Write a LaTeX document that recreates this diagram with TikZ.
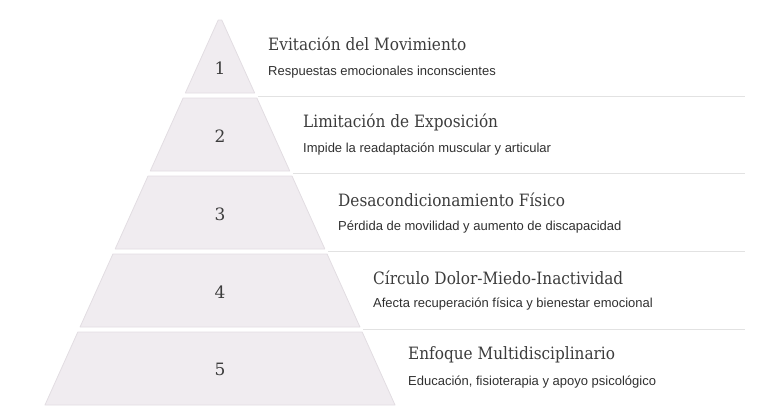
\documentclass[tikz,border=0pt]{standalone}
\usepackage{fontspec}
\setmainfont{Liberation Sans}
\newfontfamily\slabfont[FakeStretch=0.9]{DejaVu Serif}
\newfontfamily\numfont{DejaVu Serif}
\newfontfamily\subfont{Liberation Sans}
\definecolor{bandfill}{HTML}{F0ECF0}
\definecolor{bandedge}{HTML}{E2DDE2}
\definecolor{sepline}{HTML}{E2E2E2}
\definecolor{titlecol}{HTML}{3C3C3C}
\definecolor{subcol}{HTML}{303030}
\tikzset{
  band/.style={fill=bandfill, draw=bandedge, line width=0.8pt, line join=round},
  numlabel/.style={font=\numfont\fontsize{17}{20}\selectfont, text=titlecol, inner sep=0pt},
  titlelabel/.style={font=\slabfont\fontsize{17}{20}\selectfont, text=titlecol, anchor=west, inner sep=0pt},
  sublabel/.style={font=\subfont\fontsize{13}{15}\selectfont, text=subcol, anchor=west, inner sep=0pt},
  sepstyle/.style={draw=sepline, line width=1pt}
}
\begin{document}
\begin{tikzpicture}[x=1pt,y=-1pt]
\useasboundingbox (0,0) rectangle (764,416);
% bands: hw(y) = (y-16)*0.45, center x = 220
\def\cx{220}
\foreach \i/\top/\bot in {1/20/93, 2/98/171, 3/176/249, 4/254/327, 5/332/405}{
  \pgfmathsetmacro{\ht}{(\top-16)*0.45}
  \pgfmathsetmacro{\hb}{(\bot-16)*0.45}
  \path[band] (\cx-\ht,\top) -- (\cx+\ht,\top) -- (\cx+\hb,\bot) -- (\cx-\hb,\bot) -- cycle;
}
% numbers
\node[numlabel] (n1) at (220,68) {1};
\node[numlabel] (n2) at (220,136.5) {2};
\node[numlabel] (n3) at (220,214) {3};
\node[numlabel] (n4) at (220,292.5) {4};
\node[numlabel] (n5) at (220,369.5) {5};
% separator lines
\coordinate (s1a) at (258,96);   \coordinate (s1b) at (745,96);
\coordinate (s2a) at (293,173.5); \coordinate (s2b) at (745,173.5);
\coordinate (s3a) at (328,251.5); \coordinate (s3b) at (745,251.5);
\coordinate (s4a) at (363,329.5); \coordinate (s4b) at (745,329.5);
\draw[sepstyle] (s1a) -- (s1b);
\draw[sepstyle] (s2a) -- (s2b);
\draw[sepstyle] (s3a) -- (s3b);
\draw[sepstyle] (s4a) -- (s4b);
% texts
\node[titlelabel] (t1) at (268,44) {Evitación del Movimiento};
\node[sublabel] (d1) at (268,72) {Respuestas emocionales inconscientes};
\node[titlelabel] (t2) at (303,122) {Limitación de Exposición};
\node[sublabel] (d2) at (303,149.5) {Impide la readaptación muscular y articular};
\node[titlelabel] (t3) at (338,199.5) {Desacondicionamiento Físico};
\node[sublabel] (d3) at (338,227) {Pérdida de movilidad y aumento de discapacidad};
\node[titlelabel] (t4) at (373,277.5) {Círculo Dolor-Miedo-Inactividad};
\node[sublabel] (d4) at (373,304.5) {Afecta recuperación física y bienestar emocional};
\node[titlelabel] (t5) at (408,355) {Enfoque Multidisciplinario};
\node[sublabel] (d5) at (408,382.5) {Educación, fisioterapia y apoyo psicológico};
\end{tikzpicture}
\end{document}
